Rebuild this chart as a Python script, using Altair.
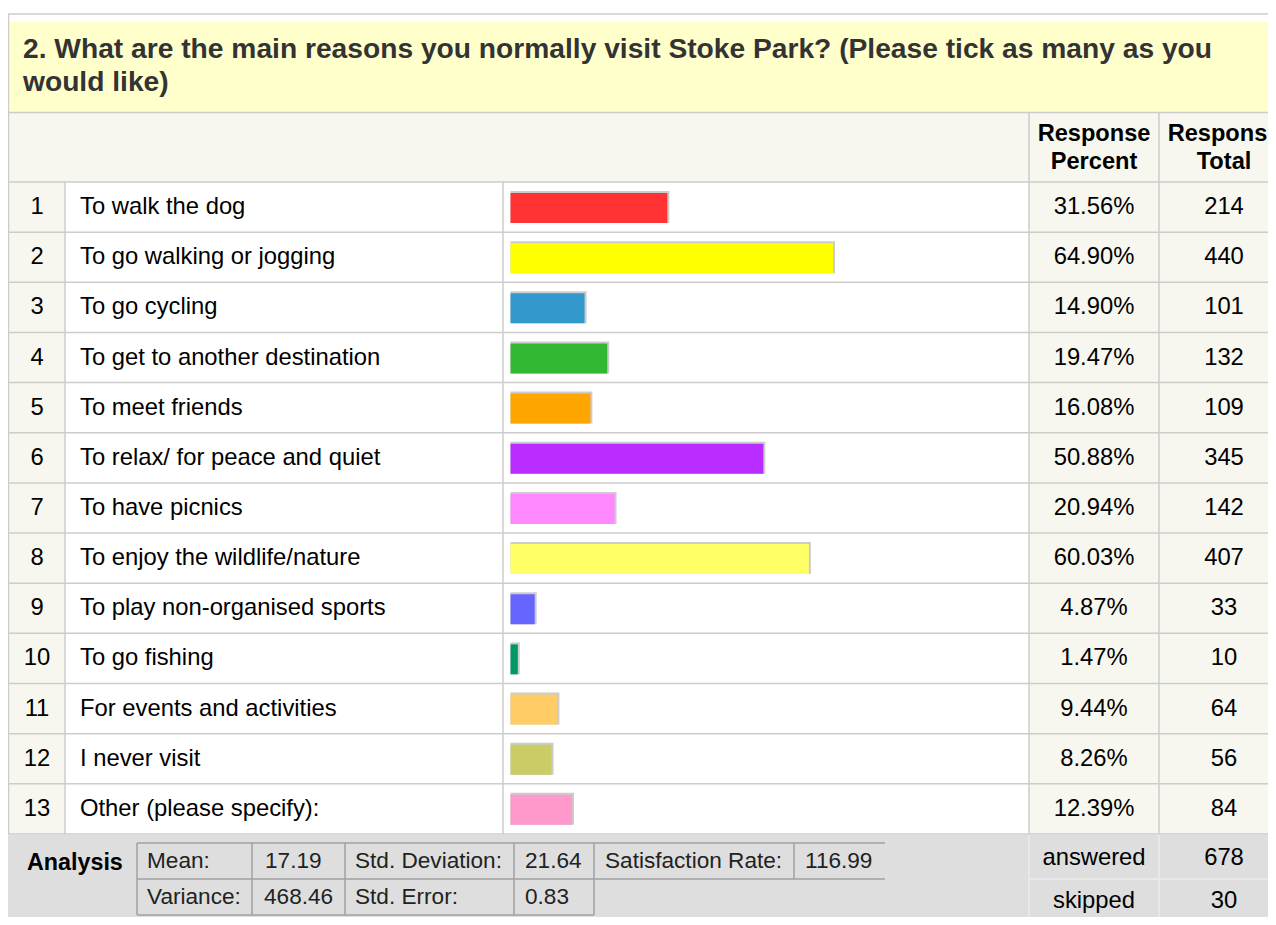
import altair as alt
import pandas as pd

# ---------------- data ----------------
row_numbers = [str(i) for i in range(1, 14)]
reasons = [
    "To walk the dog",
    "To go walking or jogging",
    "To go cycling",
    "To get to another destination",
    "To meet friends",
    "To relax/ for peace and quiet",
    "To have picnics",
    "To enjoy the wildlife/nature",
    "To play non-organised sports",
    "To go fishing",
    "For events and activities",
    "I never visit",
    "Other (please specify):",
]
response_percent = [31.56, 64.90, 14.90, 19.47, 16.08, 50.88, 20.94, 60.03, 4.87, 1.47, 9.44, 8.26, 12.39]
response_total = [214, 440, 101, 132, 109, 345, 142, 407, 33, 10, 64, 56, 84]
bar_colors = ["#FF3333", "#FFFF00", "#3399CC", "#33B833", "#FFA500", "#B92CFF", "#FF88FF",
              "#FFFF66", "#6666FF", "#009966", "#FFCC66", "#CCCC66", "#FF99CC"]
title_lines = ["2. What are the main reasons you normally visit Stoke Park? (Please tick as many as you",
               "would like)"]
header_labels = ["Response\nPercent", "Response\nTotal"]
analysis_row1 = ["Mean:", "17.19", "Std. Deviation:", "21.64", "Satisfaction Rate:", "116.99"]
analysis_row2 = ["Variance:", "468.46", "Std. Error:", "0.83"]
summary_labels = ["answered", "skipped"]
summary_values = [678, 30]

# ---------------- layout ----------------
W, H = 1260, 909
FONT = "Liberation Sans"
ROW0 = 174.0
ROW_H = 50.15
N = len(reasons)
ROW_END = ROW0 + ROW_H * N
COL_NUM = 57
COL_LABEL = 495
COL_PCT = 1021
COL_TOT = 1151
PCT_CX = 1086
TOT_CX = 1216
FOOT_Y = ROW_END + 1
LINE = "#CCCCCC"
CREAM = "#F7F7EF"
AN_TOP, AN_MID, AN_BOT = 835, 871, 907
AN_R1, AN_R2 = 853, 889

XS = alt.Scale(domain=[0, W], range=[0, W], nice=False, zero=False)
YS = alt.Scale(domain=[0, H], range=[0, H], nice=False, zero=False)
BARS = alt.Scale(domain=[0, 100], range=[502.5, 999.5], nice=False)


def ex(f="x"):
    return alt.X(f"{f}:Q", scale=XS, axis=None)


def ey(f="y"):
    return alt.Y(f"{f}:Q", scale=YS, axis=None)


def dx(v):
    return alt.X(datum=v, scale=XS, axis=None)


# backgrounds
bg = pd.DataFrame([
    dict(x=1.5, x2=W, y=13.5, y2=104.5, fill="#FFFFCC"),
    dict(x=1, x2=W, y=105, y2=ROW0, fill=CREAM),
    dict(x=1, x2=COL_NUM, y=ROW0, y2=ROW_END, fill=CREAM),
    dict(x=COL_PCT, x2=W, y=ROW0, y2=ROW_END, fill=CREAM),
    dict(x=0, x2=W, y=FOOT_Y, y2=H, fill="#DEDEDE"),
])
bg_layer = alt.Chart(bg).mark_rect().encode(
    x=ex(), x2="x2:Q", y=ey(), y2="y2:Q", color=alt.Color("fill:N", scale=None))

# table grid lines
hl = [dict(x=0, x2=W, y=6, y2=6), dict(x=0, x2=W, y=104.5, y2=104.5)]
for i in range(N + 1):
    yy = ROW0 + ROW_H * i
    hl.append(dict(x=0, x2=W, y=yy, y2=yy))
vl = [dict(x=0.5, x2=0.5, y=6, y2=ROW_END),
      dict(x=COL_NUM, x2=COL_NUM, y=ROW0, y2=ROW_END),
      dict(x=COL_LABEL, x2=COL_LABEL, y=ROW0, y2=ROW_END),
      dict(x=COL_PCT, x2=COL_PCT, y=104.5, y2=ROW_END),
      dict(x=COL_TOT, x2=COL_TOT, y=104.5, y2=ROW_END)]
grid_layer = alt.Chart(pd.DataFrame(hl + vl)).mark_rule(color=LINE, strokeWidth=1.5).encode(
    x=ex(), x2="x2:Q", y=ey(), y2="y2:Q")

# footer light separators
fl = [dict(x=COL_PCT, x2=W, y=AN_MID, y2=AN_MID),
      dict(x=COL_PCT, x2=COL_PCT, y=FOOT_Y, y2=H),
      dict(x=COL_TOT, x2=COL_TOT, y=FOOT_Y, y2=H)]
foot_lines = alt.Chart(pd.DataFrame(fl)).mark_rule(color="#EBEBEB", strokeWidth=1.5).encode(
    x=ex(), x2="x2:Q", y=ey(), y2="y2:Q")

# analysis inner table lines
al = [dict(x=129, x2=877, y=AN_TOP, y2=AN_TOP), dict(x=129, x2=877, y=AN_MID, y2=AN_MID),
      dict(x=129, x2=586, y=AN_BOT, y2=AN_BOT)]
for xx in [129, 244, 337, 506, 586]:
    al.append(dict(x=xx, x2=xx, y=AN_TOP, y2=AN_BOT))
al.append(dict(x=786, x2=786, y=AN_TOP, y2=AN_MID))
an_lines = alt.Chart(pd.DataFrame(al)).mark_rule(color="#A0A0A0", strokeWidth=1.5).encode(
    x=ex(), x2="x2:Q", y=ey(), y2="y2:Q")

# rows data
rows = pd.DataFrame({"num": row_numbers, "reason": reasons, "pct": response_percent,
                     "total": response_total, "color": bar_colors, "idx": list(range(N))})
base = alt.Chart(rows).transform_calculate(
    yc=f"{ROW0} + datum.idx * {ROW_H} + {ROW_H / 2}",
    ytop=f"{ROW0} + datum.idx * {ROW_H} + 11",
    ybot=f"{ROW0} + datum.idx * {ROW_H} + 41",
    ptxt="format(datum.pct, '.2f') + '%'",
)
shadow = base.mark_rect(color="#CCCCCC", xOffset=2, yOffset=-2).encode(
    x=alt.X("pct:Q", scale=BARS, axis=None), x2=alt.datum(0),
    y=ey("ytop"), y2="ybot:Q")
bars = base.mark_rect().encode(
    x=alt.X("pct:Q", scale=BARS, axis=None), x2=alt.datum(0),
    y=ey("ytop"), y2="ybot:Q", color=alt.Color("color:N", scale=None))

txt = dict(font=FONT, fontSize=23.8, color="#000000", baseline="middle")
num_t = base.mark_text(align="center", **txt).encode(x=dx(29), y=ey("yc"), text="num:N")
lab_t = base.mark_text(align="left", **txt).encode(x=dx(72), y=ey("yc"), text="reason:N")
pct_t = base.mark_text(align="center", **txt).encode(x=dx(PCT_CX), y=ey("yc"), text="ptxt:N")
tot_t = base.mark_text(align="center", **txt).encode(x=dx(TOT_CX), y=ey("yc"), text="total:Q")

# title
title_df = pd.DataFrame({"t": title_lines, "x": [15, 15], "y": [50, 83]})
title_t = alt.Chart(title_df).mark_text(
    align="left", baseline="alphabetic", font=FONT, fontSize=28.2, fontWeight="bold",
    color="#333333").encode(x=ex(), y=ey(), text="t:N")

# header
head_df = pd.DataFrame({"t": header_labels, "x": [PCT_CX, TOT_CX], "y": [126, 126]})
head_t = alt.Chart(head_df).mark_text(
    align="center", baseline="middle", font=FONT, fontSize=23.6, fontWeight="bold",
    color="#000000", lineBreak="\n", lineHeight=28).encode(x=ex(), y=ey(), text="t:N")

# analysis
an_bold = alt.Chart(pd.DataFrame({"t": ["Analysis"], "x": [19], "y": [AN_R1 + 2]})).mark_text(
    align="left", baseline="middle", font=FONT, fontSize=23.3, fontWeight="bold",
    color="#000000").encode(x=ex(), y=ey(), text="t:N")
an_df = pd.DataFrame({
    "t": analysis_row1 + analysis_row2,
    "x": [139, 257, 347, 517, 597, 797] + [139, 256, 347, 517],
    "y": [AN_R1] * 6 + [AN_R2] * 4,
})
an_t = alt.Chart(an_df).mark_text(
    align="left", baseline="middle", font=FONT, fontSize=22.6, color="#222222").encode(
    x=ex(), y=ey(), text="t:N")

sum_df = pd.DataFrame({"lab": summary_labels, "val": summary_values, "y": [850, 893]})
sum_l = alt.Chart(sum_df).mark_text(align="center", **txt).encode(
    x=dx(PCT_CX), y=ey(), text="lab:N")
sum_v = alt.Chart(sum_df).mark_text(align="center", **txt).encode(
    x=dx(TOT_CX), y=ey(), text="val:Q")

chart = alt.layer(
    bg_layer, grid_layer, foot_lines, an_lines, shadow, bars,
    num_t, lab_t, pct_t, tot_t, title_t, head_t, an_bold, an_t, sum_l, sum_v,
).resolve_scale(x="independent").properties(
    width=W, height=H, padding=0, autosize="none"
).configure_view(stroke=None)

chart.save("out.html", embed_options={"renderer": "svg", "actions": False})
